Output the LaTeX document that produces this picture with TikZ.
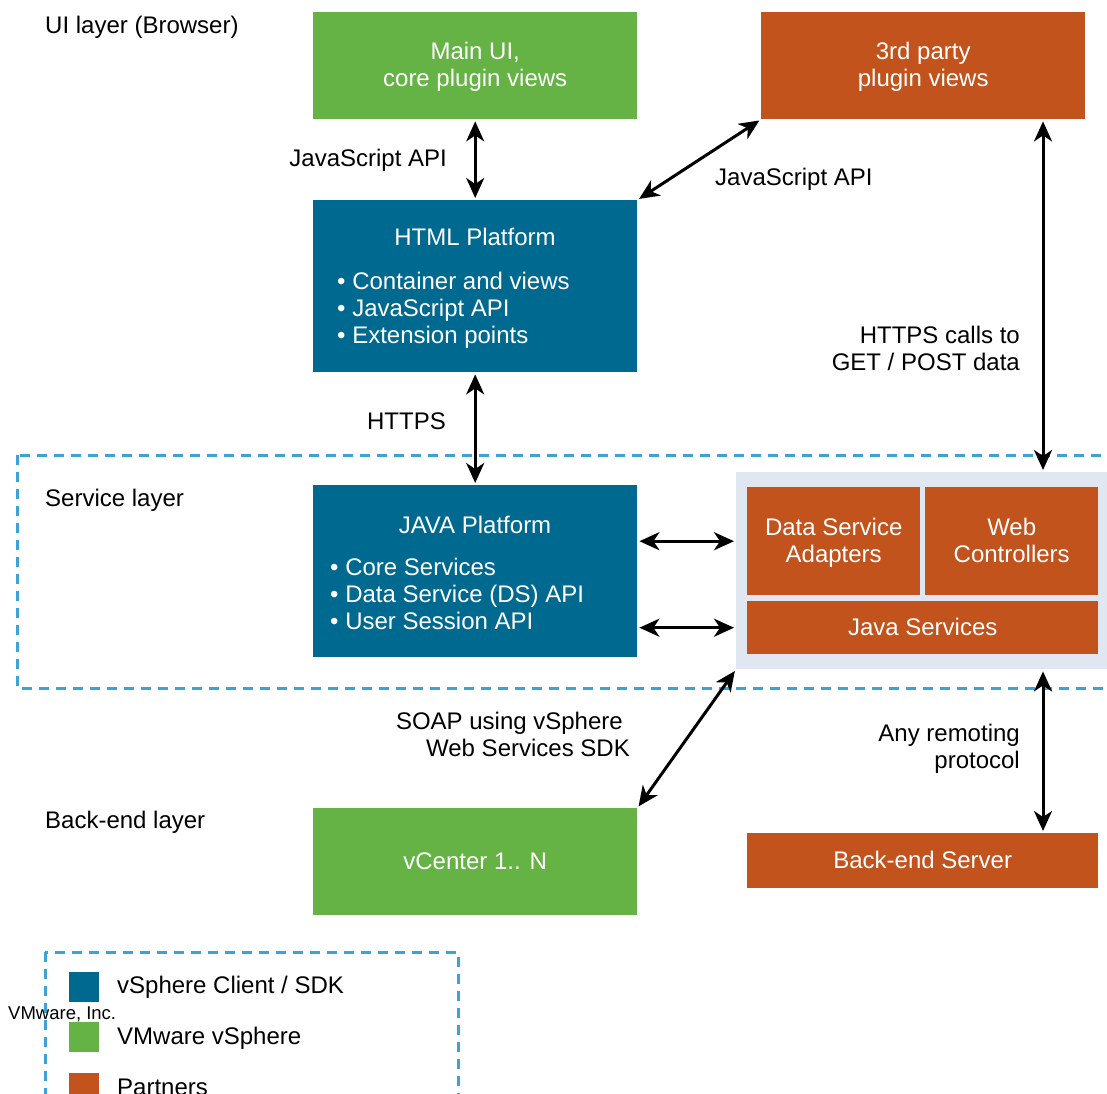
\documentclass[tikz,border=0pt]{standalone}
\usepackage{fontspec}
\setmainfont{Liberation Sans}
\usetikzlibrary{arrows.meta}
\definecolor{vblue}{HTML}{00698F}
\definecolor{vgreen}{HTML}{65B245}
\definecolor{vorange}{HTML}{C2531C}
\definecolor{vlight}{HTML}{E1E7F1}
\definecolor{vdash}{HTML}{3DA2D6}
\newcommand\topstr{\rule[-8.1pt]{0pt}{31pt}}
\begin{document}
\begin{tikzpicture}[x=1pt,y=-1pt,
  font=\fontsize{24}{27}\selectfont,
  blk/.style={fill=#1, text=white, inner sep=0pt, anchor=north west, align=center},
  lbl/.style={inner sep=0pt, text=black},
  arr/.style={{Stealth[length=20pt,width=18pt,inset=6pt]}-{Stealth[length=20pt,width=18pt,inset=6pt]}, line width=3pt, shorten <=2pt, shorten >=2pt},
  dashbox/.style={draw=vdash, line width=3pt, dash pattern=on 10pt off 7pt}]
\useasboundingbox (0,0) rectangle (1107,1093);
\fill[white] (0,0) rectangle (1107,1093);

% layer frames
\draw[dashbox] (17,455) rectangle (1125,688);
\draw[dashbox] (45,952) rectangle (458,1110);

% UI layer
\node[blk=vgreen, minimum width=324pt, minimum height=107pt] (mainui) at (313,12) {Main UI,\topstr\\core plugin views\strut};
\node[blk=vorange, minimum width=324pt, minimum height=107pt] (third) at (761,12) {3rd party\topstr\\plugin views\strut};
\node[blk=vblue, minimum width=324pt, minimum height=172pt] (html) at (313,200) {};
\node[lbl, text=white, anchor=base] (htmlt) at (475,245) {HTML Platform};
\node[lbl, text=white, anchor=base west, align=left] (htmlb) at (337,343) {• Container and views\\• JavaScript API\\• Extension points};

% service layer
\node[blk=vblue, minimum width=324pt, minimum height=172pt] (java) at (313,485) {};
\node[lbl, text=white, anchor=base] (javat) at (475,533) {JAVA Platform};
\node[lbl, text=white, anchor=base west, align=left] (javab) at (330,629) {• Core Services\\• Data Service (DS) API\\• User Session API};
\node[fill=vlight, inner sep=0pt, anchor=north west, minimum width=371pt, minimum height=197pt] (cont) at (736,472) {};
\node[blk=vorange, minimum width=173pt, minimum height=108pt] (dsa) at (747,487) {Data Service\topstr\\Adapters\strut};
\node[blk=vorange, minimum width=173pt, minimum height=108pt] (wc) at (925,487) {Web\topstr\\Controllers\strut};
\node[blk=vorange, minimum width=351pt, minimum height=53pt] (js) at (747,601) {Java Services\topstr};

% back-end layer
\node[blk=vgreen, minimum width=324pt, minimum height=107pt] (vc) at (313,808) {vCenter 1.. N\topstr};
\node[blk=vorange, minimum width=351pt, minimum height=55pt] (bes) at (747,833) {Back-end Server\topstr};

% connectors
\coordinate (ax) at (1043,0);
\draw[arr] (mainui.south) -- (html.north);
\draw[arr] (third.south west) -- (html.north east);
\draw[arr] (html.south) -- (java.north);
\draw[arr] (third.south -| ax) -- (cont.north -| ax);
\draw[arr] (java.east |- dsa.west) -- (cont.west |- dsa.west);
\draw[arr] (java.east |- js.west) -- (cont.west |- js.west);
\draw[arr] (cont.south west) -- (vc.north east);
\draw[arr] (cont.south -| ax) -- (bes.north -| ax);

% labels
\node[lbl, anchor=base west] (l1) at (45,33) {UI layer (Browser)};
\node[lbl, anchor=base west] (l2) at (45,506) {Service layer};
\node[lbl, anchor=base west] (l3) at (45,828) {Back-end layer};
\node[lbl, anchor=base east] (c1) at (447,166) {JavaScript API};
\node[lbl, anchor=base west] (c2) at (715,185) {JavaScript API};
\node[lbl, anchor=base east] (c3) at (1020,343) {HTTPS calls to};
\node[lbl, anchor=base east] (c3b) at (1020,370) {GET / POST data};
\node[lbl, anchor=base east] (c4) at (446,429) {HTTPS};
\node[lbl, anchor=base east] (c5) at (623,729) {SOAP using vSphere};
\node[lbl, anchor=base east] (c5b) at (630,756) {Web Services SDK};
\node[lbl, anchor=base east] (c6) at (1020,741) {Any remoting};
\node[lbl, anchor=base east] (c6b) at (1020,768) {protocol};

% legend
\node[fill=vblue, inner sep=0pt, minimum size=30pt, anchor=north west] (sq1) at (69,972) {};
\node[fill=vgreen, inner sep=0pt, minimum size=30pt, anchor=north west] (sq2) at (69,1022) {};
\node[fill=vorange, inner sep=0pt, minimum size=30pt, anchor=north west] (sq3) at (69,1073) {};
\node[lbl, anchor=base west] (t1) at (117,993) {vSphere Client / SDK};
\node[lbl, anchor=base west] (t2) at (117,1044) {VMware vSphere};
\node[lbl, anchor=base west] (t3) at (117,1095) {Partners};
\node[lbl, anchor=base west, font=\fontsize{18.5}{22}\selectfont] (vmw) at (8,1019) {VMware, Inc.};
\end{tikzpicture}
\end{document}
